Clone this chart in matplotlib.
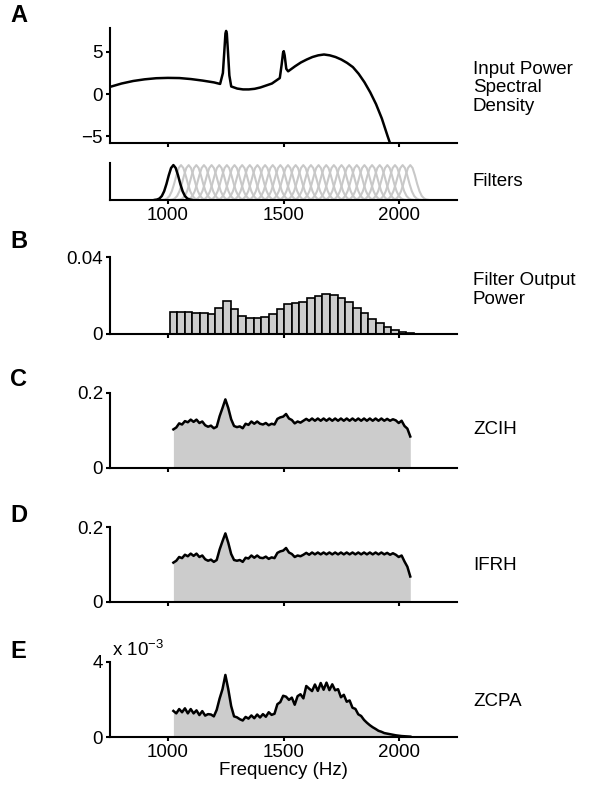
import numpy as np
import matplotlib
matplotlib.use("Agg")
import matplotlib.pyplot as plt

plt.rcParams['font.family'] = ['Liberation Sans', 'DejaVu Sans']
plt.rcParams['mathtext.fontset'] = 'custom'
plt.rcParams['mathtext.rm'] = 'Liberation Sans'
plt.rcParams['mathtext.it'] = 'Liberation Sans'

# ---------------- data ----------------
# Panel A: input power spectral density (dB)
psd_freq = [750, 775, 800, 850, 900, 950, 1000, 1050, 1100, 1150, 1200, 1226,
            1238, 1244, 1249, 1252, 1255, 1260, 1266, 1274, 1300, 1325, 1350,
            1375, 1400, 1450, 1484, 1492, 1498, 1501, 1505, 1512, 1520, 1530,
            1550, 1575, 1600, 1625, 1650, 1675, 1700, 1725, 1750, 1775, 1800,
            1825, 1850, 1875, 1900, 1925, 1950, 1970]
psd_db = [0.85, 1.05, 1.25, 1.55, 1.75, 1.88, 1.92, 1.90, 1.78, 1.60, 1.38, 1.20,
          2.5, 5.0, 7.2, 7.5, 7.2, 5.0, 2.2, 0.9, 0.65, 0.55, 0.55,
          0.62, 0.78, 1.25, 1.90, 3.5, 4.9, 5.1, 4.6, 3.0, 2.7, 2.9,
          3.3, 3.75, 4.1, 4.4, 4.6, 4.7, 4.6, 4.4, 4.1, 3.7, 3.2,
          2.4, 1.4, 0.2, -1.2, -2.9, -5.0, -6.6]

# Filters: centre frequencies and a single filter's gain profile
filter_centres = np.linspace(1024, 2048, 32)
filter_offsets = [-80, -70, -60, -50, -40, -30, -20, -10, 0, 10, 20, 30, 40, 50, 60, 70, 80]
filter_gain = [0.004, 0.014, 0.044, 0.114, 0.249, 0.458, 0.707, 0.917, 1.0,
               0.917, 0.707, 0.458, 0.249, 0.114, 0.044, 0.014, 0.004]

# Panel B: filter output power
filter_power = [0.0116, 0.0116, 0.0113, 0.0111, 0.0107, 0.0104, 0.0133, 0.0171,
                0.0132, 0.0094, 0.0085, 0.0085, 0.0090, 0.0104, 0.0128, 0.0156,
                0.0159, 0.0168, 0.0185, 0.0199, 0.0206, 0.0204, 0.0189, 0.0165,
                0.0137, 0.0107, 0.0078, 0.0055, 0.0035, 0.0021, 0.0012, 0.0007]

# Panels C-E: histograms on a fine frequency grid
hist_freq = np.linspace(1024, 2048, 83)
zcih = [0.103, 0.108, 0.119, 0.116, 0.125, 0.122, 0.129, 0.123, 0.129, 0.120,
        0.124, 0.114, 0.110, 0.113, 0.106, 0.110, 0.138, 0.160, 0.183, 0.160,
        0.130, 0.112, 0.109, 0.111, 0.106, 0.118, 0.115, 0.124, 0.118, 0.124,
        0.118, 0.116, 0.120, 0.114, 0.118, 0.116, 0.131, 0.135, 0.137, 0.144,
        0.132, 0.128, 0.119, 0.124, 0.121, 0.126, 0.131, 0.126, 0.132, 0.126,
        0.132, 0.126, 0.132, 0.126, 0.132, 0.126, 0.132, 0.126, 0.132, 0.126,
        0.132, 0.126, 0.132, 0.126, 0.132, 0.126, 0.132, 0.126, 0.132, 0.126,
        0.132, 0.126, 0.132, 0.126, 0.131, 0.126, 0.130, 0.127, 0.120, 0.126,
        0.112, 0.105, 0.084]
ifrh = [0.105, 0.110, 0.120, 0.117, 0.126, 0.122, 0.129, 0.123, 0.129, 0.120,
        0.124, 0.114, 0.110, 0.113, 0.107, 0.112, 0.140, 0.162, 0.183, 0.158,
        0.128, 0.112, 0.110, 0.112, 0.107, 0.118, 0.116, 0.124, 0.118, 0.124,
        0.118, 0.117, 0.121, 0.115, 0.119, 0.117, 0.131, 0.135, 0.137, 0.144,
        0.132, 0.128, 0.120, 0.124, 0.122, 0.126, 0.131, 0.126, 0.132, 0.127,
        0.132, 0.127, 0.132, 0.127, 0.132, 0.127, 0.132, 0.127, 0.132, 0.127,
        0.132, 0.127, 0.132, 0.127, 0.132, 0.127, 0.132, 0.127, 0.132, 0.127,
        0.132, 0.127, 0.132, 0.127, 0.131, 0.126, 0.130, 0.126, 0.120, 0.124,
        0.108, 0.094, 0.068]
zcpa = [1.39, 1.26, 1.49, 1.32, 1.53, 1.26, 1.49, 1.26, 1.42, 1.17,
        1.38, 1.14, 1.22, 1.20, 1.10, 1.45, 2.05, 2.55, 3.31, 2.55,
        1.65, 1.10, 1.05, 0.95, 0.88, 1.07, 0.98, 1.15, 1.00, 1.20,
        1.04, 1.22, 1.08, 1.32, 1.18, 1.24, 1.75, 1.86, 2.20, 2.15,
        1.98, 2.10, 1.72, 2.18, 2.28, 2.06, 2.72, 2.58, 2.45, 2.80,
        2.46, 2.88, 2.52, 2.90, 2.50, 2.81, 2.49, 2.55, 2.12, 2.25,
        1.88, 1.95, 1.56, 1.50, 1.21, 1.12, 0.91, 0.76, 0.63, 0.52,
        0.43, 0.33, 0.28, 0.21, 0.18, 0.15, 0.12, 0.09, 0.07, 0.05,
        0.04, 0.03, 0.02]  # in units of 1e-3

xticks = [1000, 1500, 2000]
panel_letters = ['A', 'B', 'C', 'D', 'E']
right_labels = ['Input Power\nSpectral\nDensity', 'Filters', 'Filter Output\nPower',
                'ZCIH', 'IFRH', 'ZCPA']

# ---------------- figure ----------------
W, H = 591, 798
fig = plt.figure(figsize=(W / 100, H / 100), dpi=100)

LW = 1.5
FS = 13.5
GREY = '#cccccc'


def px_axes(top, bottom, left=110, right=457):
    return fig.add_axes([left / W, 1 - bottom / H, (right - left) / W, (bottom - top) / H])


def style(ax):
    for s in ['top', 'right']:
        ax.spines[s].set_visible(False)
    for s in ['left', 'bottom']:
        ax.spines[s].set_linewidth(LW)
    ax.tick_params(direction='out', length=3, width=LW, labelsize=FS, pad=2)
    ax.set_xlim(750, 2250)
    ax.set_xticks(xticks)


# A: PSD
axA = px_axes(28, 143)
style(axA)
axA.plot(psd_freq, psd_db, color='black', lw=LW * 1.2)
axA.set_ylim(-5.82, 7.85)
axA.set_yticks([-5, 0, 5])
axA.set_xticklabels([])

# Filters
axF = px_axes(163, 200)
style(axF)
for i, c in enumerate(filter_centres):
    if i == 0:
        continue
    axF.plot(np.array(filter_offsets) + c, filter_gain, color='#c8c8c8', lw=LW)
axF.plot(np.array(filter_offsets) + filter_centres[0], filter_gain, color='black', lw=LW * 1.2)
axF.set_ylim(0, 1.06)
axF.set_yticks([])
axF.set_xticklabels([str(t) for t in xticks])

# B: filter output power
axB = px_axes(257, 334)
style(axB)
bw = filter_centres[1] - filter_centres[0]
axB.bar(filter_centres, filter_power, width=bw, color=GREY, edgecolor='black', linewidth=1.2)
axB.set_ylim(0, 0.04)
axB.set_yticks([0, 0.04])
axB.set_yticklabels(['0', '0.04'])
axB.set_xticklabels([])

# C, D, E
def hist_panel(top, bottom, vals, ymax, yticklabels):
    ax = px_axes(top, bottom)
    style(ax)
    ax.fill_between(hist_freq, 0, vals, color=GREY, linewidth=0)
    ax.plot(hist_freq, vals, color='black', lw=LW * 1.2)
    ax.set_ylim(0, ymax)
    ax.set_yticks([0, ymax])
    ax.set_yticklabels(yticklabels)
    return ax

axC = hist_panel(393, 468, zcih, 0.2, ['0', '0.2'])
axC.set_xticklabels([])
axD = hist_panel(527, 602, ifrh, 0.2, ['0', '0.2'])
axD.set_xticklabels([])
axE = hist_panel(662, 737, zcpa, 4, ['0', '4'])
axE.set_xticklabels([str(t) for t in xticks])
axE.set_xlabel('Frequency (Hz)', fontsize=FS, labelpad=1)
axE.text(0.005, 1.03, r'x 10$^{-3}$', transform=axE.transAxes, fontsize=FS,
         ha='left', va='bottom')

# panel letters
for letter, y in zip(panel_letters, [15, 241, 379, 516, 651]):
    fig.text(10 / W, 1 - y / H, letter, fontsize=17, fontweight='bold', ha='left', va='center')

# right-side labels
for lab, y in zip(right_labels, [88, 181, 290, 429, 566, 701]):
    fig.text(473 / W, 1 - y / H, lab, fontsize=FS, ha='left', va='center', linespacing=1.1)

fig.savefig('out.png', dpi=100)
